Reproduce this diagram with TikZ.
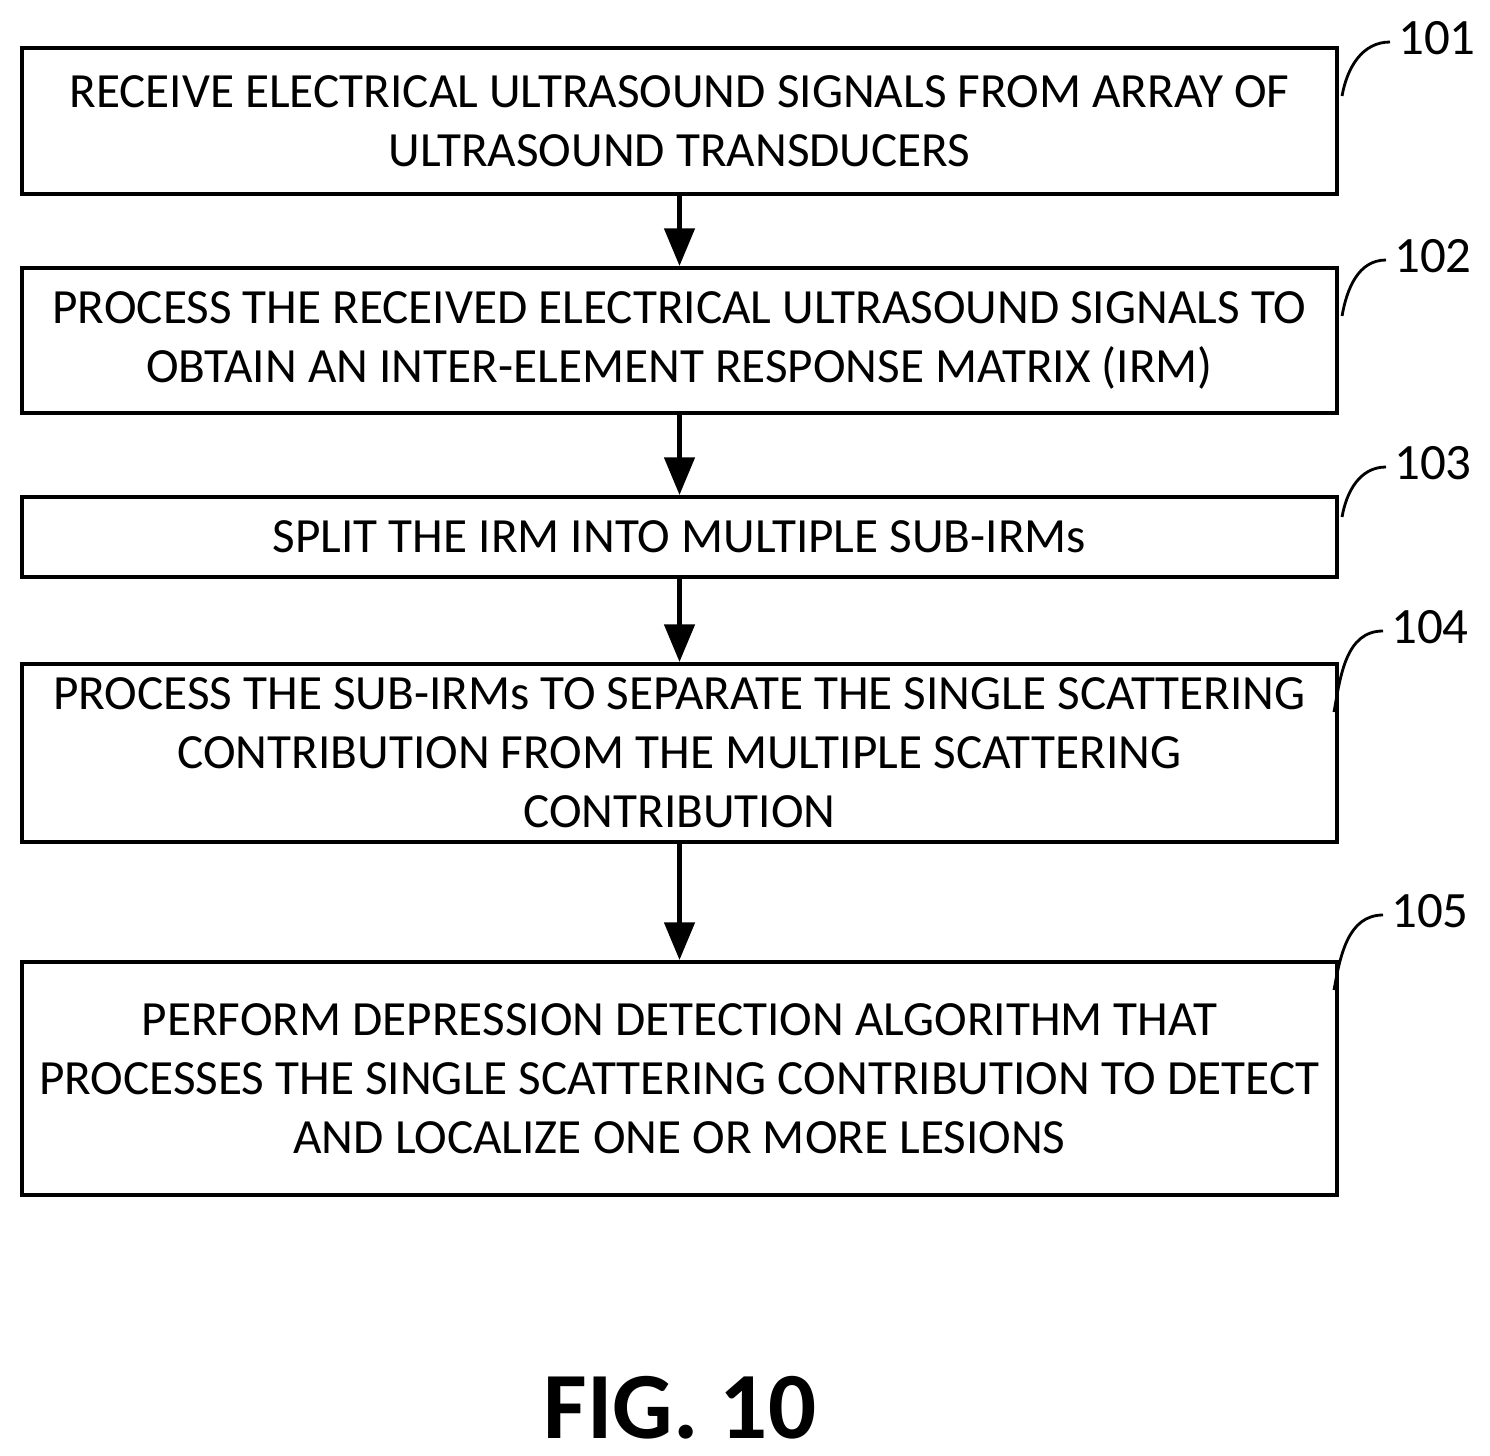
\documentclass[tikz,border=0pt]{standalone}
\usepackage{fontspec}
\setmainfont{Carlito}
\usetikzlibrary{arrows.meta, positioning, calc}
\begin{document}
\begin{tikzpicture}[x=0.02cm, y=-0.02cm,
    stepbox/.style={draw, line width=2.3pt, minimum width=1315*0.02cm, align=center, font=\fontsize{28}{33.5}\selectfont, inner sep=0pt},
    flow/.style={line width=2.5pt, -{Triangle[length=0.75cm, width=0.6cm]}},
    ref/.style={font=\fontsize{29}{33}\selectfont, anchor=west},
    lead/.style={line width=1.6pt}]
  \useasboundingbox (0,0) rectangle (1490,1456);
  % steps
  \node[stepbox, minimum height=146*0.02cm] (s1) at (679.5,121) {RECEIVE ELECTRICAL ULTRASOUND SIGNALS FROM ARRAY OF\\ULTRASOUND TRANSDUCERS};
  \node[stepbox, minimum height=145*0.02cm] (s2) at (679.5,340.5) {PROCESS THE RECEIVED ELECTRICAL ULTRASOUND SIGNALS TO\\OBTAIN AN INTER-ELEMENT RESPONSE MATRIX (IRM)};
  \node[stepbox, minimum height=80*0.02cm] (s3) at (679.5,537) {SPLIT THE IRM INTO MULTIPLE SUB-IRMs};
  \node[stepbox, minimum height=178*0.02cm] (s4) at (679.5,753) {PROCESS THE SUB-IRMs TO SEPARATE THE SINGLE SCATTERING\\CONTRIBUTION FROM THE MULTIPLE SCATTERING\\CONTRIBUTION};
  \node[stepbox, minimum height=233*0.02cm] (s5) at (679.5,1078.5) {PERFORM DEPRESSION DETECTION ALGORITHM THAT\\PROCESSES THE SINGLE SCATTERING CONTRIBUTION TO DETECT\\AND LOCALIZE ONE OR MORE LESIONS};
  % arrows
  \draw[flow] (s1) -- (s2);
  \draw[flow] (s2) -- (s3);
  \draw[flow] (s3) -- (s4);
  \draw[flow] (s4) -- (s5);
  % reference numerals
  \node[ref] (r1) at (1392,38) {101};
  \node[ref] (r2) at (1388,256) {102};
  \node[ref] (r3) at (1388,463) {103};
  \node[ref] (r4) at (1385,627) {104};
  \node[ref] (r5) at (1385,911) {105};
  \draw[lead] ($(s1.north east)+(3,50)$) to[out=80, in=180] ($(r1.west)+(-2,4)$);
  \draw[lead] ($(s2.north east)+(3,50)$) to[out=80, in=180] ($(r2.west)+(-2,4)$);
  \draw[lead] ($(s3.north east)+(3,22)$) to[out=80, in=180] ($(r3.west)+(-2,4)$);
  \draw[lead] ($(s4.north east)+(-5,50)$) to[out=80, in=180] ($(r4.west)+(-2,4)$);
  \draw[lead] ($(s5.north east)+(-5,30)$) to[out=80, in=180] ($(r5.west)+(-2,4)$);
  % caption
  \node[font=\fontsize{54}{60}\bfseries] (fig) at (680,1408) {FIG. 10};
\end{tikzpicture}
\end{document}
